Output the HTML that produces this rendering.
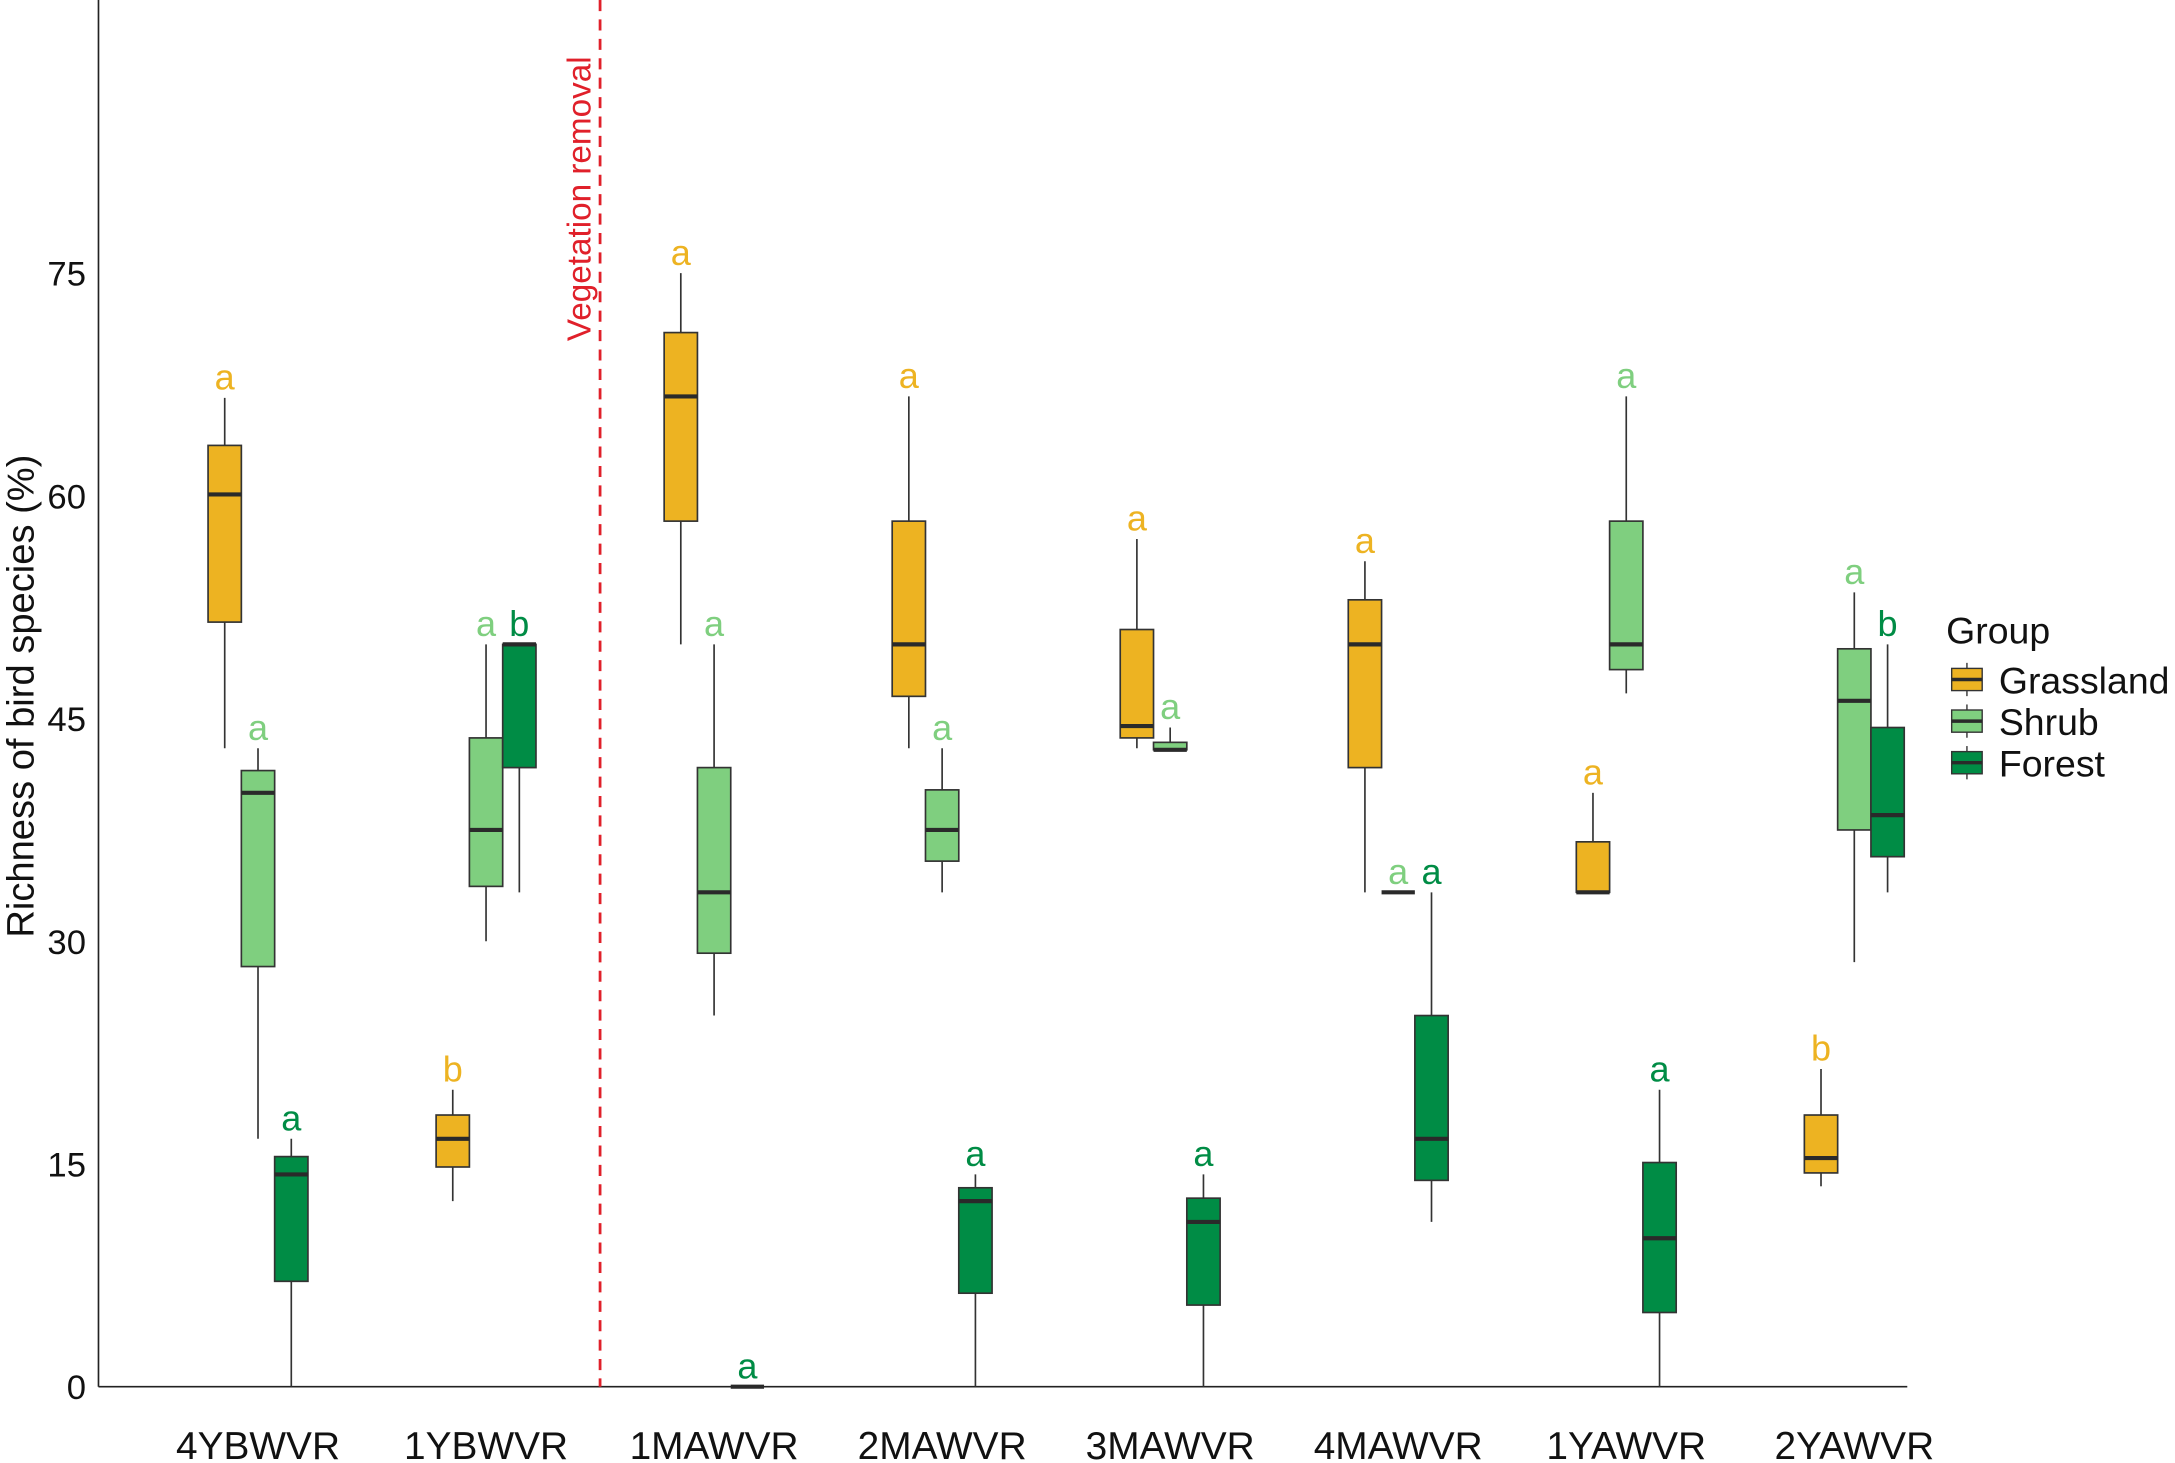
<!DOCTYPE html>
<html><head><meta charset="utf-8"><style>
html,body{margin:0;padding:0;background:#fff;}
svg{display:block;font-family:"Liberation Sans",Arial,sans-serif;}
</style></head><body>
<svg id="chart" width="2175" height="1463" viewBox="0 0 1568 1055" preserveAspectRatio="none" xmlns="http://www.w3.org/2000/svg"></svg>
<script>
const categories = ["4YBWVR","1YBWVR","1MAWVR","2MAWVR","3MAWVR","4MAWVR","1YAWVR","2YAWVR"];
const groups = ["Grassland","Shrub","Forest"];
const colors = ["#EDB322","#7FCF7F","#008C45"];
const yTicks = [0,15,30,45,60,75];
// [min, q1, median, q3, max] per category
const grassland = [[43,51.5,60.1,63.4,66.6],[12.5,14.8,16.7,18.3,20],[50,58.3,66.7,71,75],[43,46.5,50,58.3,66.7],[43,43.7,44.5,51,57.1],[33.3,41.7,50,53,55.6],[33.3,33.3,33.3,36.7,40],[13.5,14.4,15.4,18.3,21.4]];
const shrub = [[16.7,28.3,40,41.5,43],[30,33.7,37.5,43.7,50],[25,29.2,33.3,41.7,50],[33.3,35.4,37.5,40.2,43],[42.9,42.9,42.9,43.4,44.4],[33.3,33.3,33.3,33.3,33.3],[46.7,48.3,50,58.3,66.7],[28.6,37.5,46.2,49.7,53.5]];
const forest = [[0,7.1,14.3,15.5,16.7],[33.3,41.7,50,50,50],[0,0,0,0,0],[0,6.3,12.5,13.4,14.3],[0,5.5,11.1,12.7,14.3],[11.1,13.9,16.7,25,33.3],[0,5,10,15.1,20],[33.3,35.7,38.5,44.4,50]];
const grasslandLetters = ["a","b","a","a","a","a","a","b"];
const shrubLetters = ["a","a","a","a","a","a","a","a"];
const forestLetters = ["a","b","a","a","a","a","a","b"];

const NS="http://www.w3.org/2000/svg";
const svg=document.getElementById('chart');
const X0=71, X1=1375, Y0=1000, YPER=(1000-197)/75;
const yS=v=>Y0-v*YPER;
const xS=i=>186+i*164.4;
const off=24, bw=24;
function mk(tag,attrs,parent){const e=document.createElementNS(NS,tag);for(const k in attrs)e.setAttribute(k,attrs[k]);(parent||svg).appendChild(e);return e;}

let e;
e=mk('line',{x1:X0,y1:0,x2:X0,y2:Y0,stroke:'#222','stroke-width':1.2});


e=mk('line',{x1:X0,y1:Y0,x2:X1,y2:Y0,stroke:'#222','stroke-width':1.2});



yTicks.forEach(t=>{
  const tx=mk('text',{x:62,y:yS(t)+9,'text-anchor':'end','font-size':25,fill:'#111'});
  tx.textContent=t;
  
  
});
categories.forEach((c,i)=>{
  const tx=mk('text',{x:xS(i),y:1052,'text-anchor':'middle','font-size':28,fill:'#111'});
  tx.textContent=c;
  
  
});
e=mk('text',{transform:'translate(24,502) rotate(-90)','text-anchor':'middle','font-size':27.5,fill:'#111'});
e.textContent='Richness of bird species (%)';



const vx=(xS(1)+xS(2))/2;
e=mk('line',{x1:vx,y1:0,x2:vx,y2:Y0,stroke:'#E0202A','stroke-width':2,'stroke-dasharray':'8,6'});


e=mk('text',{transform:`translate(${vx-7},246) rotate(-90)`,'text-anchor':'start','font-size':24,fill:'#E0202A'});
e.textContent='Vegetation removal';



const series=[grassland,shrub,forest];
const letters=[grasslandLetters,shrubLetters,forestLetters];
series.forEach((data,g)=>{
  data.forEach((d,i)=>{
    const cx=xS(i)+(g-1)*off;
    const grp=mk('g',{});
    
    
    mk('line',{x1:cx,y1:yS(d[0]),x2:cx,y2:yS(d[4]),stroke:'#333','stroke-width':1.2},grp);
    const h=Math.max(yS(d[1])-yS(d[3]),0);
    if(h>0) mk('rect',{x:cx-bw/2,y:yS(d[3]),width:bw,height:h,fill:colors[g],stroke:'#333','stroke-width':1.2},grp);
    mk('line',{x1:cx-bw/2,y1:yS(d[2]),x2:cx+bw/2,y2:yS(d[2]),stroke:'#2a2a2a','stroke-width':3},grp);
    const lt=mk('text',{x:cx,y:yS(d[4])-6,'text-anchor':'middle','font-size':26,fill:colors[g]},grp);
    lt.textContent=letters[g][i];
    
    
  });
});

const lg=mk('g',{});


e=mk('text',{x:1403,y:464,'font-size':27,fill:'#111'},lg);
e.textContent='Group';


groups.forEach((gname,g)=>{
  const cy=490+g*30;
  const it=mk('g',{},lg);
  
  
  mk('line',{x1:1418,y1:cy-12,x2:1418,y2:cy+12,stroke:'#333','stroke-width':1},it);
  mk('rect',{x:1407,y:cy-8,width:22,height:16,fill:colors[g],stroke:'#333','stroke-width':1},it);
  mk('line',{x1:1407,y1:cy,x2:1429,y2:cy,stroke:'#2a2a2a','stroke-width':2.5},it);
  const t=mk('text',{x:1441,y:cy+10,'font-size':27,fill:'#111'},it);
  t.textContent=gname;
});
</script>
</body></html>
